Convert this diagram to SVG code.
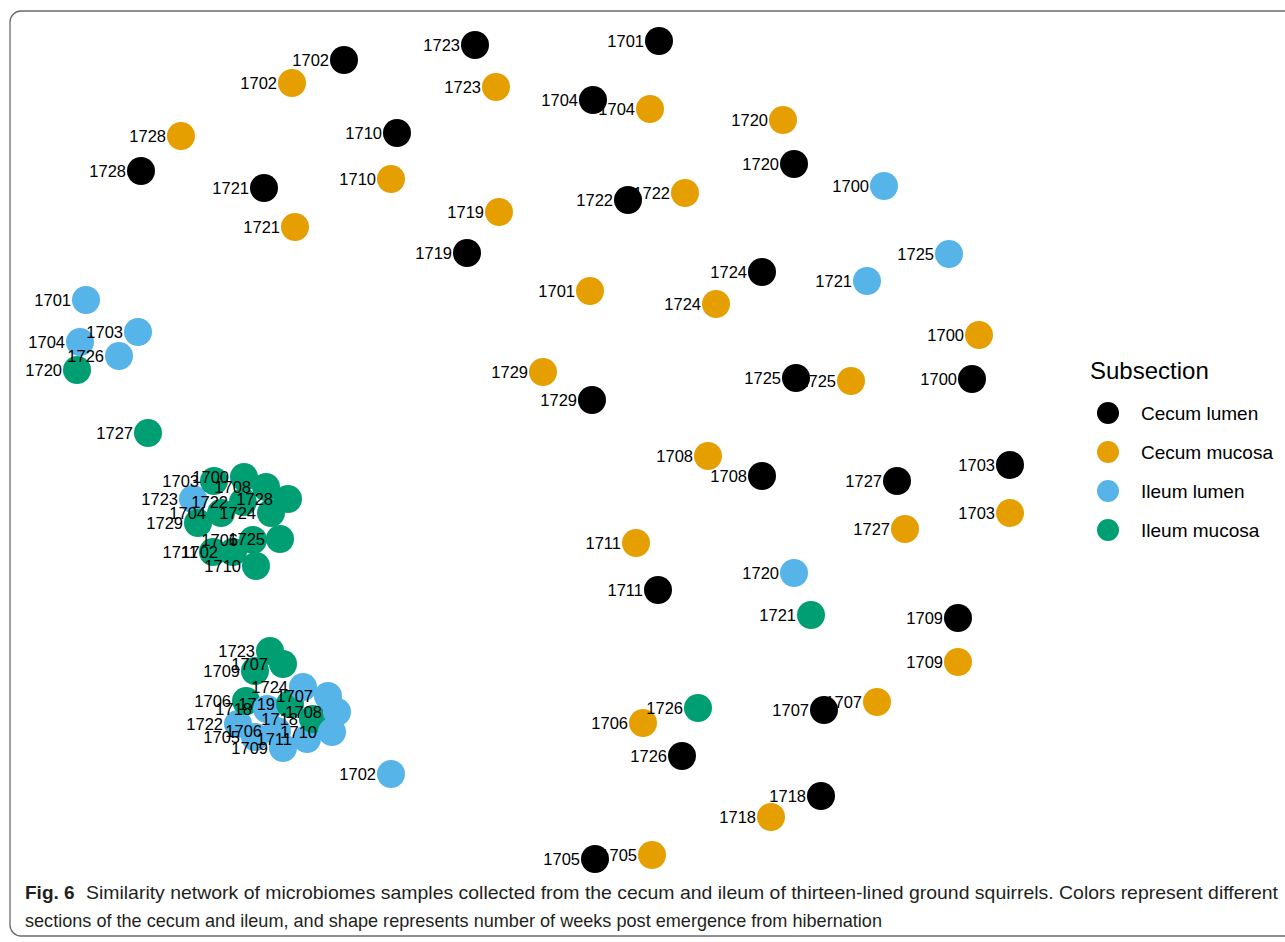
<svg xmlns="http://www.w3.org/2000/svg" width="1285" height="942" viewBox="0 0 1285 942">
<style>
.cl{fill:#000000}
.cm{fill:#E69F00}
.il{fill:#56B4E9}
.im{fill:#009E73}
text{font-family:"Liberation Sans",Arial,Helvetica,sans-serif;fill:#000}
.lbl{font-size:16.5px;text-anchor:end}
.lt{font-size:24px}
.li{font-size:19px}
.cap{font-size:19px;fill:#231F20}
.capb{font-size:19px;font-weight:bold;fill:#231F20}
</style>
<rect x="10" y="11" width="1300" height="925" rx="11" ry="11" fill="#fff" stroke="#6b6b6b" stroke-width="1.3"/>
<g id="connectors"></g>
<g id="nodes">
<g id="im-1720a"><circle class="im" cx="77" cy="370" r="14"/><text class="lbl" x="62" y="376">1720</text></g>
<g id="il-1704a"><circle class="il" cx="80" cy="342" r="14"/><text class="lbl" x="65" y="348">1704</text></g>
<g id="il-1701"><circle class="il" cx="86" cy="300" r="14"/><text class="lbl" x="71" y="306">1701</text></g>
<g id="il-1726"><circle class="il" cx="119" cy="356" r="14"/><text class="lbl" x="104" y="362">1726</text></g>
<g id="il-1703"><circle class="il" cx="138" cy="332" r="14"/><text class="lbl" x="123" y="338">1703</text></g>
<g id="cl-1728"><circle class="cl" cx="141" cy="171" r="14"/><text class="lbl" x="126" y="177">1728</text></g>
<g id="im-1727"><circle class="im" cx="148" cy="433" r="14"/><text class="lbl" x="133" y="439">1727</text></g>
<g id="cm-1728"><circle class="cm" cx="181" cy="136" r="14"/><text class="lbl" x="166" y="142">1728</text></g>
<g id="il-1723"><circle class="il" cx="193" cy="499" r="14"/><text class="lbl" x="178" y="505">1723</text></g>
<g id="im-1729"><circle class="im" cx="198" cy="523" r="14"/><text class="lbl" x="183" y="529">1729</text></g>
<g id="im-1711"><circle class="im" cx="213" cy="552" r="14"/><text class="lbl" x="198" y="558">1711</text></g>
<g id="im-1703"><circle class="im" cx="214" cy="481" r="14"/><text class="lbl" x="199" y="487">1703</text></g>
<g id="im-1704"><circle class="im" cx="221" cy="513" r="14"/><text class="lbl" x="206" y="519">1704</text></g>
<g id="im-1702"><circle class="im" cx="233" cy="552" r="14"/><text class="lbl" x="218" y="558">1702</text></g>
<g id="il-1722"><circle class="il" cx="238" cy="724" r="14"/><text class="lbl" x="223" y="730">1722</text></g>
<g id="im-1722"><circle class="im" cx="243" cy="502" r="14"/><text class="lbl" x="228" y="508">1722</text></g>
<g id="im-1700"><circle class="im" cx="244" cy="477" r="14"/><text class="lbl" x="229" y="483">1700</text></g>
<g id="im-1706b"><circle class="im" cx="246" cy="701" r="14"/><text class="lbl" x="231" y="707">1706</text></g>
<g id="im-1706a"><circle class="im" cx="253" cy="540" r="14"/><text class="lbl" x="238" y="546">1706</text></g>
<g id="im-1709"><circle class="im" cx="255" cy="671" r="14"/><text class="lbl" x="240" y="677">1709</text></g>
<g id="il-1705"><circle class="il" cx="255" cy="737" r="14"/><text class="lbl" x="240" y="743">1705</text></g>
<g id="im-1710"><circle class="im" cx="256" cy="566" r="14"/><text class="lbl" x="241" y="572">1710</text></g>
<g id="cl-1721"><circle class="cl" cx="264" cy="188" r="14"/><text class="lbl" x="249" y="194">1721</text></g>
<g id="im-1708"><circle class="im" cx="266" cy="487" r="14"/><text class="lbl" x="251" y="493">1708</text></g>
<g id="il-1718"><circle class="il" cx="267" cy="709" r="14"/><text class="lbl" x="252" y="715">1718</text></g>
<g id="im-1723"><circle class="im" cx="270" cy="651" r="14"/><text class="lbl" x="255" y="657">1723</text></g>
<g id="im-1724"><circle class="im" cx="271" cy="513" r="14"/><text class="lbl" x="256" y="519">1724</text></g>
<g id="il-1706"><circle class="il" cx="277" cy="731" r="14"/><text class="lbl" x="262" y="737">1706</text></g>
<g id="im-1725"><circle class="im" cx="280" cy="539" r="14"/><text class="lbl" x="265" y="545">1725</text></g>
<g id="im-1707"><circle class="im" cx="283" cy="664" r="14"/><text class="lbl" x="268" y="670">1707</text></g>
<g id="il-1709"><circle class="il" cx="283" cy="748" r="14"/><text class="lbl" x="268" y="754">1709</text></g>
<g id="im-1728"><circle class="im" cx="288" cy="499" r="14"/><text class="lbl" x="273" y="505">1728</text></g>
<g id="im-1719"><circle class="im" cx="290" cy="704" r="14"/><text class="lbl" x="275" y="710">1719</text></g>
<g id="cm-1702"><circle class="cm" cx="292" cy="83" r="14"/><text class="lbl" x="277" y="89">1702</text></g>
<g id="cm-1721"><circle class="cm" cx="295" cy="227" r="14"/><text class="lbl" x="280" y="233">1721</text></g>
<g id="il-1724"><circle class="il" cx="303" cy="687" r="14"/><text class="lbl" x="288" y="693">1724</text></g>
<g id="il-1711"><circle class="il" cx="307" cy="739" r="14"/><text class="lbl" x="292" y="745">1711</text></g>
<g id="im-1718"><circle class="im" cx="313" cy="719" r="14"/><text class="lbl" x="298" y="725">1718</text></g>
<g id="il-1707"><circle class="il" cx="328" cy="696" r="14"/><text class="lbl" x="313" y="702">1707</text></g>
<g id="il-1710"><circle class="il" cx="332" cy="732" r="14"/><text class="lbl" x="317" y="738">1710</text></g>
<g id="il-1708"><circle class="il" cx="337" cy="712" r="14"/><text class="lbl" x="322" y="718">1708</text></g>
<g id="cl-1702"><circle class="cl" cx="344" cy="60" r="14"/><text class="lbl" x="329" y="66">1702</text></g>
<g id="cm-1710"><circle class="cm" cx="391" cy="179" r="14"/><text class="lbl" x="376" y="185">1710</text></g>
<g id="il-1702"><circle class="il" cx="391" cy="774" r="14"/><text class="lbl" x="376" y="780">1702</text></g>
<g id="cl-1710"><circle class="cl" cx="397" cy="133" r="14"/><text class="lbl" x="382" y="139">1710</text></g>
<g id="cl-1719"><circle class="cl" cx="467" cy="253" r="14"/><text class="lbl" x="452" y="259">1719</text></g>
<g id="cl-1723"><circle class="cl" cx="475" cy="45" r="14"/><text class="lbl" x="460" y="51">1723</text></g>
<g id="cm-1723"><circle class="cm" cx="496" cy="87" r="14"/><text class="lbl" x="481" y="93">1723</text></g>
<g id="cm-1719"><circle class="cm" cx="499" cy="212" r="14"/><text class="lbl" x="484" y="218">1719</text></g>
<g id="cm-1729"><circle class="cm" cx="543" cy="372" r="14"/><text class="lbl" x="528" y="378">1729</text></g>
<g id="cm-1701"><circle class="cm" cx="590" cy="291" r="14"/><text class="lbl" x="575" y="297">1701</text></g>
<g id="cl-1729"><circle class="cl" cx="592" cy="400" r="14"/><text class="lbl" x="577" y="406">1729</text></g>
<g id="cl-1704"><circle class="cl" cx="593" cy="100" r="14"/><text class="lbl" x="578" y="106">1704</text></g>
<g id="cl-1705"><circle class="cl" cx="595" cy="859" r="14"/><text class="lbl" x="580" y="865">1705</text></g>
<g id="cl-1722"><circle class="cl" cx="628" cy="200" r="14"/><text class="lbl" x="613" y="206">1722</text></g>
<g id="cm-1711"><circle class="cm" cx="636" cy="543" r="14"/><text class="lbl" x="621" y="549">1711</text></g>
<g id="cm-1706"><circle class="cm" cx="643" cy="723" r="14"/><text class="lbl" x="628" y="729">1706</text></g>
<g id="cm-1704"><circle class="cm" cx="650" cy="109" r="14"/><text class="lbl" x="635" y="115">1704</text></g>
<g id="cm-1705"><circle class="cm" cx="652" cy="855" r="14"/><text class="lbl" x="637" y="861">1705</text></g>
<g id="cl-1711"><circle class="cl" cx="658" cy="590" r="14"/><text class="lbl" x="643" y="596">1711</text></g>
<g id="cl-1701"><circle class="cl" cx="659" cy="41" r="14"/><text class="lbl" x="644" y="47">1701</text></g>
<g id="cl-1726"><circle class="cl" cx="682" cy="756" r="14"/><text class="lbl" x="667" y="762">1726</text></g>
<g id="cm-1722"><circle class="cm" cx="685" cy="193" r="14"/><text class="lbl" x="670" y="199">1722</text></g>
<g id="im-1726"><circle class="im" cx="698" cy="708" r="14"/><text class="lbl" x="683" y="714">1726</text></g>
<g id="cm-1708"><circle class="cm" cx="708" cy="456" r="14"/><text class="lbl" x="693" y="462">1708</text></g>
<g id="cm-1724"><circle class="cm" cx="716" cy="304" r="14"/><text class="lbl" x="701" y="310">1724</text></g>
<g id="cl-1724"><circle class="cl" cx="762" cy="272" r="14"/><text class="lbl" x="747" y="278">1724</text></g>
<g id="cl-1708"><circle class="cl" cx="762" cy="476" r="14"/><text class="lbl" x="747" y="482">1708</text></g>
<g id="cm-1718"><circle class="cm" cx="771" cy="817" r="14"/><text class="lbl" x="756" y="823">1718</text></g>
<g id="cm-1720"><circle class="cm" cx="783" cy="120" r="14"/><text class="lbl" x="768" y="126">1720</text></g>
<g id="cl-1720"><circle class="cl" cx="794" cy="164" r="14"/><text class="lbl" x="779" y="170">1720</text></g>
<g id="il-1720"><circle class="il" cx="794" cy="573" r="14"/><text class="lbl" x="779" y="579">1720</text></g>
<g id="cl-1725"><circle class="cl" cx="796" cy="378" r="14"/><text class="lbl" x="781" y="384">1725</text></g>
<g id="im-1721"><circle class="im" cx="811" cy="615" r="14"/><text class="lbl" x="796" y="621">1721</text></g>
<g id="cl-1718"><circle class="cl" cx="821" cy="796" r="14"/><text class="lbl" x="806" y="802">1718</text></g>
<g id="cl-1707"><circle class="cl" cx="824" cy="710" r="14"/><text class="lbl" x="809" y="716">1707</text></g>
<g id="cm-1725"><circle class="cm" cx="851" cy="381" r="14"/><text class="lbl" x="836" y="387">1725</text></g>
<g id="il-1721"><circle class="il" cx="867" cy="281" r="14"/><text class="lbl" x="852" y="287">1721</text></g>
<g id="cm-1707"><circle class="cm" cx="877" cy="702" r="14"/><text class="lbl" x="862" y="708">1707</text></g>
<g id="il-1700"><circle class="il" cx="884" cy="186" r="14"/><text class="lbl" x="869" y="192">1700</text></g>
<g id="cl-1727"><circle class="cl" cx="897" cy="481" r="14"/><text class="lbl" x="882" y="487">1727</text></g>
<g id="cm-1727"><circle class="cm" cx="905" cy="529" r="14"/><text class="lbl" x="890" y="535">1727</text></g>
<g id="il-1725"><circle class="il" cx="949" cy="254" r="14"/><text class="lbl" x="934" y="260">1725</text></g>
<g id="cl-1709"><circle class="cl" cx="958" cy="618" r="14"/><text class="lbl" x="943" y="624">1709</text></g>
<g id="cm-1709"><circle class="cm" cx="958" cy="662" r="14"/><text class="lbl" x="943" y="668">1709</text></g>
<g id="cl-1700"><circle class="cl" cx="972" cy="379" r="14"/><text class="lbl" x="957" y="385">1700</text></g>
<g id="cm-1700"><circle class="cm" cx="979" cy="335" r="14"/><text class="lbl" x="964" y="341">1700</text></g>
<g id="cl-1703"><circle class="cl" cx="1010" cy="465" r="14"/><text class="lbl" x="995" y="471">1703</text></g>
<g id="cm-1703"><circle class="cm" cx="1010" cy="513" r="14"/><text class="lbl" x="995" y="519">1703</text></g>
</g>
<g id="legend">
<text class="lt" x="1090" y="379">Subsection</text>
<circle class="cl" cx="1108" cy="413" r="11"/><text class="li" x="1141" y="420">Cecum lumen</text>
<circle class="cm" cx="1108" cy="452" r="11"/><text class="li" x="1141" y="459">Cecum mucosa</text>
<circle class="il" cx="1108" cy="491" r="11"/><text class="li" x="1141" y="498">Ileum lumen</text>
<circle class="im" cx="1108" cy="530" r="11"/><text class="li" x="1141" y="537">Ileum mucosa</text>
</g>
<g id="caption">
<text class="capb" x="25" y="899">Fig. 6</text>
<text class="cap" x="86" y="899" textLength="1192" lengthAdjust="spacingAndGlyphs">Similarity network of microbiomes samples collected from the cecum and ileum of thirteen-lined ground squirrels. Colors represent different</text>
<text class="cap" x="25" y="927" textLength="857" lengthAdjust="spacingAndGlyphs">sections of the cecum and ileum, and shape represents number of weeks post emergence from hibernation</text>
</g>
</svg>
